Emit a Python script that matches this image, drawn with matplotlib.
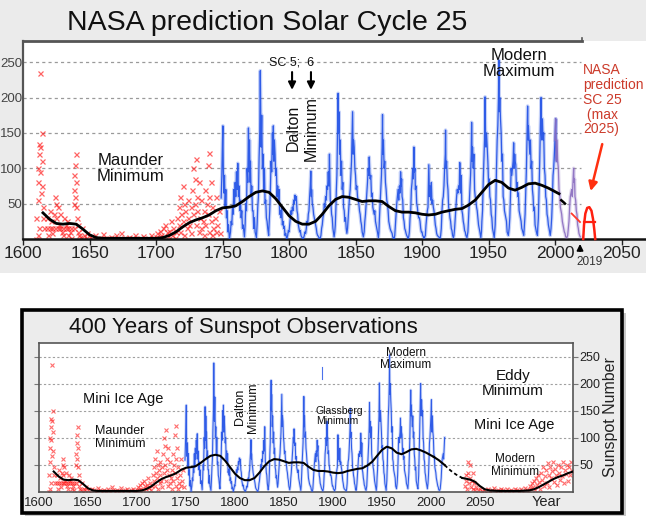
import numpy as np
import matplotlib
matplotlib.use("Agg")
import matplotlib.pyplot as plt
from matplotlib.patches import Rectangle

plt.rcParams['font.family'] = ['Liberation Sans', 'DejaVu Sans']

# ---------------- data ----------------
sn_years = [
 1749.0,1749.5,1750.0,1750.3,1750.6,1751.0,1751.5,1752.0,1752.5,1753.0,1753.5,1754.0,1754.5,1755.2,
 1756.0,1756.5,1757.0,1757.5,1758.0,1758.5,1759.0,1759.5,1760.0,1760.5,1761.0,1761.5,1762.0,1762.5,1763.0,1763.5,1764.0,1764.5,1765.0,1765.5,1766.5,
 1767.0,1767.5,1768.0,1768.5,1769.0,1769.5,1770.0,1770.3,1770.8,1771.0,1771.5,1772.0,1772.5,1773.0,1773.5,1774.0,1774.5,1775.5,
 1776.0,1776.5,1777.0,1777.5,1778.0,1778.4,1778.8,1779.0,1779.5,1780.0,1780.5,1781.0,1781.5,1782.0,1782.5,1783.0,1783.5,1784.0,1784.7,
 1785.0,1785.5,1786.0,1786.5,1787.0,1787.5,1788.0,1788.2,1788.6,1789.0,1789.5,1790.0,1790.5,1791.0,1791.5,1792.0,1792.5,1793.0,1793.5,1794.0,1794.5,1795.0,1795.5,1796.0,1796.5,1797.0,1797.5,1798.3,
 1799.0,1799.5,1800.0,1800.5,1801.0,1801.5,1802.0,1802.5,1803.0,1803.5,1804.0,1804.5,1805.0,1805.5,1806.0,1806.5,1807.0,1807.5,1808.0,1808.5,1809.0,1809.5,1810.6,
 1811.0,1811.5,1812.0,1812.5,1813.0,1813.5,1814.0,1814.5,1815.0,1815.5,1816.0,1816.4,1816.8,1817.0,1817.5,1818.0,1818.5,1819.0,1819.5,1820.0,1820.5,1821.0,1821.5,1822.0,1822.5,1823.3,
 1824.0,1824.5,1825.0,1825.5,1826.0,1826.5,1827.0,1827.5,1828.0,1828.5,1829.0,1829.5,1830.0,1830.4,1830.8,1831.0,1831.5,1832.0,1832.5,1833.0,1833.9,
 1834.4,1834.8,1835.2,1835.6,1836.0,1836.5,1836.9,1837.2,1837.5,1838.0,1838.5,1839.0,1839.5,1840.0,1840.5,1841.0,1841.5,1842.0,1842.5,1843.0,1843.5,
 1844.0,1844.5,1845.0,1845.5,1846.0,1846.5,1847.0,1847.5,1847.8,1848.2,1848.5,1849.0,1849.5,1850.0,1850.5,1851.0,1851.5,1852.0,1852.5,1853.0,1853.5,1854.0,1854.5,1855.0,1855.9,
 1856.5,1857.0,1857.5,1858.0,1858.5,1859.0,1859.5,1860.0,1860.3,1860.7,1861.0,1861.5,1862.0,1862.5,1863.0,1863.5,1864.0,1864.5,1865.0,1865.5,1866.0,1866.5,1867.2,
 1867.6,1868.0,1868.5,1869.0,1869.5,1870.0,1870.3,1870.6,1871.0,1871.5,1872.0,1872.5,1873.0,1873.5,1874.0,1874.5,1875.0,1875.5,1876.0,1876.5,1877.0,1877.5,1878.0,1878.9,
 1879.5,1880.0,1880.5,1881.0,1881.5,1882.0,1882.5,1883.0,1883.5,1883.9,1884.3,1884.7,1885.0,1885.5,1886.0,1886.5,1887.0,1887.5,1888.0,1888.5,1889.6,
 1890.0,1890.5,1891.0,1891.5,1892.0,1892.5,1893.0,1893.5,1893.9,1894.3,1894.7,1895.0,1895.5,1896.0,1896.5,1897.0,1897.5,1898.0,1898.5,1899.0,1899.5,1900.0,1900.5,1901.7,
 1902.0,1902.5,1903.0,1903.5,1904.0,1904.5,1905.1,1905.6,1906.0,1906.5,1907.0,1907.5,1908.0,1908.5,1909.0,1909.5,1910.0,1910.5,1911.0,1911.5,1912.0,1912.5,1913.6,
 1914.0,1914.5,1915.0,1915.5,1916.0,1916.5,1917.0,1917.5,1917.7,1918.0,1918.5,1919.0,1919.5,1920.0,1920.5,1921.0,1921.5,1922.0,1922.5,1923.0,1923.6,
 1924.0,1924.5,1925.0,1925.5,1926.0,1926.5,1927.0,1927.5,1928.0,1928.4,1928.8,1929.0,1929.5,1930.0,1930.5,1931.0,1931.5,1932.0,1932.5,1933.0,1933.8,
 1934.5,1935.0,1935.5,1936.0,1936.5,1937.0,1937.3,1937.7,1938.0,1938.5,1939.0,1939.5,1940.0,1940.5,1941.0,1941.5,1942.0,1942.5,1943.0,1943.5,1944.2,
 1944.7,1945.0,1945.5,1946.0,1946.5,1947.0,1947.4,1947.8,1948.0,1948.5,1949.0,1949.5,1950.0,1950.5,1951.0,1951.5,1952.0,1952.5,1953.0,1953.5,1954.3,
 1955.0,1955.5,1956.0,1956.5,1957.0,1957.5,1957.8,1958.1,1958.5,1959.0,1959.5,1960.0,1960.5,1961.0,1961.5,1962.0,1962.5,1963.0,1963.5,1964.0,1964.9,
 1965.5,1966.0,1966.5,1967.0,1967.5,1968.0,1968.5,1968.9,1969.3,1969.7,1970.0,1970.5,1971.0,1971.5,1972.0,1972.5,1973.0,1973.5,1974.0,1974.5,1975.0,1975.5,1976.5,
 1977.0,1977.5,1978.0,1978.5,1979.0,1979.4,1979.8,1980.0,1980.5,1981.0,1981.5,1982.0,1982.5,1983.0,1983.5,1984.0,1984.5,1985.0,1985.5,1986.0,1986.8,
 1987.0,1987.5,1988.0,1988.5,1989.0,1989.5,1989.8,1990.0,1990.5,1991.0,1991.5,1992.0,1992.5,1993.0,1993.5,1994.0,1994.5,1995.0,1995.5,1996.4,
 1997.0,1997.5,1998.0,1998.5,1999.0,1999.5,2000.0,2000.5,2000.8,2001.0,2001.5,2002.0,2002.5,2003.0,2003.5,2004.0,2004.5,2005.0,2005.5,2006.0,2006.5,2007.0,2007.5,2008.0,2008.9,
 2009.5,2010.0,2010.5,2011.0,2011.5,2012.0,2012.5,2013.0,2013.5,2014.0,2014.3,2014.7,2015.0,2015.5,2016.0,2016.5,2017.0,2017.5,2018.0,2018.5,2019.0]
sn_vals = [
 58,90,140,160,100,65,90,45,70,30,40,10,20,0,
 10,25,20,45,35,70,45,80,60,95,70,107,60,75,40,55,30,40,15,20,3,
 20,50,40,100,80,157,95,140,80,110,60,75,40,40,15,30,10,2,
 20,45,60,115,150,238,170,130,175,100,120,70,100,50,55,30,25,15,5,
 20,40,70,110,95,150,120,160,110,140,120,90,100,60,75,55,70,35,40,30,45,20,25,15,18,5,8,0,
 5,12,10,20,30,40,35,45,40,55,50,62,55,60,40,35,20,15,10,12,5,3,0,
 2,5,10,8,15,25,20,35,40,60,75,96,60,70,50,45,35,30,25,20,15,8,5,4,2,0,
 5,15,20,30,35,50,45,60,55,75,70,95,75,120,70,55,50,35,30,15,3,
 10,20,40,70,90,150,206,150,180,120,140,90,110,70,80,45,40,25,30,15,8,
 15,30,45,60,70,90,110,150,180,120,140,130,100,90,70,75,60,55,50,40,35,25,20,10,3,
 10,25,35,50,65,80,100,90,116,95,85,90,60,65,45,40,35,40,25,20,15,10,2,
 10,30,50,70,90,130,176,120,140,100,110,80,70,55,50,40,25,20,15,12,10,8,3,0,
 5,20,35,50,60,70,55,75,65,95,75,85,60,55,30,25,15,12,8,5,1,
 3,10,30,40,70,80,100,85,130,95,100,70,75,50,45,35,30,30,25,15,10,10,5,1,
 3,5,20,30,40,45,105,60,75,55,80,50,55,45,40,30,20,15,8,5,4,3,1,
 5,15,40,55,60,75,100,120,154,100,110,80,70,45,40,30,25,15,12,5,2,
 5,15,30,45,60,70,65,75,70,108,75,65,90,40,35,25,20,12,10,5,2,
 10,30,50,70,90,120,165,110,130,100,120,70,60,55,45,40,30,20,15,10,2,
 10,25,40,80,110,140,201,140,130,150,130,110,80,85,60,55,35,30,15,10,2,
 20,50,100,140,160,200,253,180,200,170,150,110,120,60,55,40,35,30,25,10,5,
 15,30,60,100,90,100,110,136,100,120,110,105,70,80,60,65,40,35,30,25,15,12,5,
 20,35,70,100,150,188,140,160,140,120,140,100,110,70,60,40,45,20,15,10,5,
 15,30,70,110,160,200,150,140,170,140,150,100,90,60,55,35,30,20,15,5,
 15,30,55,90,100,120,140,170,115,110,140,110,100,70,65,45,40,35,25,20,15,10,8,3,2,
 5,15,25,45,60,65,70,60,80,100,80,85,60,55,40,35,20,15,8,5,3]

# isolated blue mark in the lower chart
glitch_years = [1889.0, 1889.0]
glitch_vals = [209, 231]

# early telescopic observations (red crosses)
red_years = [
 1610,1610,1611,1611,1611.5,1612,1612,1612.5,1613,1613,1613.5,1614,1614,1614.5,1615,1615,1612,1611,
 1616,1618,1620,1622,1624,1626,1628,1630,1632,1634,1636,1638,
 1618,1619,1620,1621,1622,1623,1624,1625,1625,1626,1627,1628,1629,1630,1631,1632,1633,1634,1635,1636,
 1638,1638,1638.5,1639,1639,1639.5,1640,1640,1640.5,1641,1641,1642,1643,1644,1645,
 1646,1647,1648,1650,1652,1654,1656,1658,1660,1662,1664,1666,1668,1670,1672,1674,1676,1678,1680,1682,1684,1686,1688,1690,1692,1694,1696,1698,1700,
 1701,1702,1703,1704,1705,1706,1707,1708,1709,1710,1711,1712,1713,1714,1715,
 1716,1717,1717,1718,1718,1719,1720,1720,1721,1721,1722,1723,1724,1724,1725,1726,1726,1727,1728,1728,1729,1729,1730,1730,1731,1731,1732,1732,
 1733,1734,1734,1735,1736,1736,1737,1737,1738,1739,1739,1740,1740,1740,1741,1741,1742,1742,1743,1744,1745,1745,1746,1747,1748]
red_vals = [
 0,30,55,80,100,120,135,95,235,130,65,110,150,75,45,30,15,5,
 15,15,15,15,15,15,15,15,15,15,15,15,
 30,5,40,25,8,35,60,50,30,45,20,35,10,5,30,20,25,5,10,2,
 50,70,90,105,60,80,120,45,30,20,10,5,3,15,0,
 5,2,8,3,0,5,2,0,7,2,0,3,1,5,0,8,2,0,3,1,6,0,2,4,0,2,5,1,3,
 8,2,12,5,15,3,20,10,4,12,25,6,15,2,10,
 30,20,45,60,10,35,75,25,50,5,40,15,55,30,20,45,8,70,35,100,85,50,113,20,60,40,80,10,
 30,55,15,25,40,5,70,20,50,105,35,121,60,10,80,25,45,5,15,30,60,10,20,40,8]

# projected repeat of a grand minimum (lower chart, red crosses)
future_years = [
 2035,2036,2036,2037,2038,2038,2039,2040,2040,2041,2042,2043,2043,2044,2045,2046,2048,
 2050,2052,2054,2056,2058,2060,2062,2064,2066,2068,2070,2072,2074,2076,2078,2080,2082,2084,2086,2088,2090,2092,2094,2096,2098,2100,
 2101,2102,2103,2104,2105,2106,2107,2108,2109,2110,2111,2112,2113,2114,2115,2116,2117,2118,2119,2120,2121,2122,2123,2124,2125,2126,
 2127,2128,2129,2130,2131,2132,2133,2134,2135,2136,2137,2138,2139,2140,2141,2142,2143,2144]
future_vals = [
 10,30,20,5,35,55,15,25,50,8,20,35,5,15,2,8,3,
 5,1,3,0,4,1,2,6,0,3,1,5,2,0,4,1,3,0,5,2,1,4,0,6,2,3,
 10,5,15,8,20,3,25,12,30,18,5,35,22,45,10,28,40,15,52,30,8,45,25,38,55,18,
 42,30,12,50,35,22,45,28,55,15,40,33,50,20,45,30,55,38]

# smoothed trend (black)
trend_years = [1615,1620,1625,1630,1635,1640,1645,1650,1655,1660,1670,1680,1690,1700,1705,1710,1715,1720,
               1725,1730,1735,1740,1745,1750,1755,1760,1765,1770,1775,1780,1785,1790,1795,1800,1805,1810,
               1815,1820,1825,1830,1835,1840,1845,1850,1855,1860,1865,1870,1875,1880,1885,1890,1895,1900,
               1905,1910,1915,1920,1925,1930,1935,1940,1945,1950,1955,1960,1965,1970,1975,1980,1985,1990,
               1995,2000,2003]
trend_vals = [37,28,22,21,22,21,14,6,2,1,1,1,1,1,2,5,10,17,
              23,27,30,34,40,44,45,47,53,60,66,68,66,57,45,33,25,21,
              21,25,35,47,56,60,59,56,53,54,54,53,46,40,38,38,37,35,
              34,35,38,40,42,43,48,55,66,77,83,80,72,69,73,78,79,76,
              72,67,64]
# upper chart: short dashed continuation
top_dash_years = [2004, 2007, 2010]
top_dash_vals = [56, 51, 45]
# lower chart: continuation, dashed bridge, projected grand minimum
ext_years = [2003, 2008, 2014]
ext_vals = [64, 58, 49]
bridge_years = [2014, 2018, 2022, 2026, 2032]
bridge_vals = [49, 42, 36, 31, 25]
future_trend_years = [2032,2035,2040,2045,2050,2055,2060,2070,2080,2090,2100,2105,2110,2115,2120,2125,2130,2135,2140,2145]
future_trend_vals = [25,24,22,18,10,4,2,1,1,1,2,4,8,13,18,23,27,30,34,37]

# NASA SC25 sketch (red, upper chart)
nasa_line_years = [2012.5, 2018.8]
nasa_line_vals = [36, 24]
nasa_a_years = [2021.2, 2021.8, 2022.8, 2024.2, 2025.8, 2027.4, 2028.6, 2029.6, 2030.2]
nasa_a_vals = [0, 20, 36, 44, 45, 40, 28, 12, 0]
nasa_bar_years = [2021.6, 2029.8]
nasa_bar_vals = [24, 24]

x_ticks = [1600, 1650, 1700, 1750, 1800, 1850, 1900, 1950, 2000, 2050]
y_ticks = [50, 100, 150, 200, 250]

# ---------------- figure ----------------
W, H = 646, 522
fig = plt.figure(figsize=(W / 100, H / 100), dpi=100)
fig.patch.set_facecolor('white')

def fx(px):
    return px / W

def fy(py):
    return 1 - py / H

# upper grey band
fig.patches.append(Rectangle((0, fy(273)), 1, 273 / H, transform=fig.transFigure,
                             facecolor='#ebebeb', edgecolor='none', zorder=-5))
# lower framed panel
fig.patches.append(Rectangle((fx(25), fy(516)), fx(601), 203 / H, transform=fig.transFigure,
                             facecolor='#c8c8c8', edgecolor='none', zorder=-5))
fig.patches.append(Rectangle((fx(22), fy(513)), fx(600), 203 / H, transform=fig.transFigure,
                             facecolor='#ececec', edgecolor='black', linewidth=2.6, zorder=-4))

sn_y = np.array(sn_years)
sn_v = np.array(sn_vals)
BLUE = '#1f4fe6'
PURPLE = '#8a6cc0'
RED = '#ff1f1f'

def draw_blue(ax, mask, color):
    ax.plot(sn_y[mask], sn_v[mask], color=color, lw=2.6, alpha=0.25, zorder=3)
    ax.plot(sn_y[mask], sn_v[mask], color=color, lw=0.9, alpha=0.9, zorder=4)

# ---------- upper chart ----------
ax1 = fig.add_axes([fx(23), fy(239), fx(623), 198 / H])
ax1.set_xlim(1600, 2068.4)
ax1.set_ylim(0, 280)
ax1.set_facecolor('white')
for s in ['right', 'top']:
    ax1.spines[s].set_visible(False)
ax1.spines['left'].set_color('#555555')
ax1.spines['left'].set_linewidth(1.6)
ax1.spines['bottom'].set_color('#111111')
ax1.spines['bottom'].set_linewidth(1.8)
ax1.plot([1600, 2020], [280, 280], color='#555555', lw=2.0, clip_on=False, zorder=5)
ax1.plot([2020, 2020], [280, 284], color='#555555', lw=1.2, clip_on=False, zorder=5)
ax1.hlines(y_ticks, 1600, 2019.5, colors='#9a9a9a', linestyles=(0, (2.5, 2.5)), lw=0.9, zorder=1)

ax1.plot(red_years, red_vals, linestyle='none', marker='x', color=RED, ms=3.6, mew=0.9, alpha=0.7, zorder=2)
draw_blue(ax1, sn_y <= 2001.0, BLUE)
draw_blue(ax1, sn_y >= 2000.0, PURPLE)
ax1.plot(trend_years, trend_vals, color='black', lw=2.0, zorder=6)
ax1.plot(top_dash_years, top_dash_vals, color='black', lw=1.8, ls=(0, (3, 2)), zorder=6)
ax1.plot(nasa_line_years, nasa_line_vals, color='#ff3a2a', lw=1.3, zorder=6)
ax1.plot(nasa_a_years, nasa_a_vals, color='#ff2010', lw=1.8, zorder=6, clip_on=False)
ax1.plot(nasa_bar_years, nasa_bar_vals, color='#ff2010', lw=1.6, zorder=6)

ax1.set_xticks(x_ticks)
ax1.set_xticklabels([str(t) for t in x_ticks], fontsize=12.5, color='#222222')
ax1.set_yticks(y_ticks)
ax1.set_yticklabels([str(t) for t in y_ticks], fontsize=9.5, color='#444444')
ax1.tick_params(axis='x', direction='out', length=4, width=1, pad=1.0, color='#222222')
ax1.tick_params(axis='y', length=0, pad=0.5)

ax1.text(1681, 100, 'Maunder\nMinimum', fontsize=12, ha='center', va='center', linespacing=1.1, color='#111111', zorder=7)
ax1.text(1802, 250, 'SC 5;  6', fontsize=9, ha='center', va='center', color='#111111', zorder=7)
for xa in [1802.3, 1816.5]:
    ax1.annotate('', xy=(xa, 207), xytext=(xa, 240),
                 arrowprops=dict(arrowstyle='-|>', color='black', lw=1.5, mutation_scale=11), zorder=7)
ax1.text(1803, 157, 'Dalton', fontsize=11.5, rotation=90, ha='center', va='center', color='#111111', zorder=7)
ax1.text(1816.5, 156, 'Minimum', fontsize=11.5, rotation=90, ha='center', va='center', color='#111111', zorder=7)
ax1.text(1973, 248, 'Modern\nMaximum', fontsize=12, ha='center', va='center', linespacing=1.05, color='#111111', zorder=7)
ax1.text(2021, 249, 'NASA\nprediction\nSC 25\n (max\n2025)', fontsize=10, ha='left', va='top',
         linespacing=1.08, color='#cc3b2b', zorder=7)
ax1.annotate('', xy=(2026.3, 64), xytext=(2036, 138),
             arrowprops=dict(arrowstyle='-|>', color='#ff3010', lw=1.8, mutation_scale=13), zorder=7)
ax1.annotate('', xy=(2018.8, -3), xytext=(2018.8, -21), annotation_clip=False,
             arrowprops=dict(arrowstyle='-|>', color='black', lw=1.3, mutation_scale=9), zorder=7)
ax1.text(2026.3, -33, '2019', fontsize=8.5, ha='center', va='center', color='#333333', clip_on=False)

fig.text(fx(267), fy(23), 'NASA prediction Solar Cycle 25', fontsize=20.5, ha='center', va='center', color='#111111')

# ---------- lower chart ----------
ax2 = fig.add_axes([fx(39), fy(491.5), fx(534), 148.5 / H])
ax2.set_xlim(1600, 2145)
ax2.set_ylim(0, 275)
ax2.set_facecolor('white')
for s in ax2.spines.values():
    s.set_color('#555555')
    s.set_linewidth(1.2)
ax2.hlines(y_ticks, 1600, 2145, colors='#a0a0a0', linestyles=(0, (2, 2)), lw=0.8, zorder=1)

ax2.plot(red_years, red_vals, linestyle='none', marker='x', color=RED, ms=3.0, mew=0.8, alpha=0.65, zorder=2)
ax2.plot(future_years, future_vals, linestyle='none', marker='x', color=RED, ms=3.0, mew=0.8, alpha=0.65, zorder=2)
mask2 = sn_y <= 2014.0
ax2.plot(sn_y[mask2], sn_v[mask2], color=BLUE, lw=2.0, alpha=0.22, zorder=3)
ax2.plot(sn_y[mask2], sn_v[mask2], color=BLUE, lw=0.75, alpha=0.9, zorder=4)
ax2.plot(glitch_years, glitch_vals, color=BLUE, lw=0.8, alpha=0.8, zorder=4)
ax2.plot(trend_years, trend_vals, color='black', lw=1.5, zorder=6)
ax2.plot(ext_years, ext_vals, color='black', lw=1.5, zorder=6)
ax2.plot(bridge_years, bridge_vals, color='black', lw=1.3, ls=(0, (2, 1.5)), zorder=6)
ax2.plot(future_trend_years, future_trend_vals, color='black', lw=1.5, zorder=6)

ax2.set_xticks(x_ticks)
ax2.set_xticklabels([str(t) for t in x_ticks], fontsize=9.5, color='#222222')
ax2.tick_params(axis='x', length=0, pad=4)
ax2.set_yticks(y_ticks)
ax2.tick_params(axis='y', which='both', left=True, right=True, labelleft=False, labelright=True,
                direction='out', length=3.5, width=0.8, color='#777777', labelsize=9, pad=1.2, labelcolor='#222222')
ax2.text(2118, -19, 'Year', fontsize=10.5, ha='center', va='center', color='#222222', clip_on=False)
fig.text(fx(611), fy(417), 'Sunspot Number', fontsize=11.5, rotation=90, ha='center', va='center', color='#222222')

ax2.text(1685.7, 171, 'Mini Ice Age', fontsize=10.5, ha='center', va='center', color='#111111', zorder=7)
ax2.text(1682.6, 100, 'Maunder\nMinimum', fontsize=9, ha='center', va='center', linespacing=1.1, color='#111111', zorder=7)
ax2.text(1805, 156, 'Dalton', fontsize=9, rotation=90, ha='center', va='center', color='#111111', zorder=7)
ax2.text(1818.4, 155, 'Minimum', fontsize=9, rotation=90, ha='center', va='center', color='#111111', zorder=7)
ax2.text(1882.7, 140, 'Glassberg\nMinimum', fontsize=7.5, ha='left', va='center', linespacing=1.0, color='#111111', zorder=7)
ax2.text(1974.5, 245, 'Modern\nMaximum', fontsize=8.5, ha='center', va='center', linespacing=1.0, color='#111111', zorder=7)
ax2.text(2083.7, 200, 'Eddy\nMinimum', fontsize=11, ha='center', va='center', linespacing=1.1, color='#111111', zorder=7)
ax2.text(2084.7, 123, 'Mini Ice Age', fontsize=10.5, ha='center', va='center', color='#111111', zorder=7)
ax2.text(2085.7, 48, 'Modern\nMinimum', fontsize=8.5, ha='center', va='center', linespacing=1.05, color='#111111', zorder=7)

fig.text(fx(243), fy(327), '400 Years of Sunspot Observations', fontsize=16, ha='center', va='center', color='#111111')

fig.savefig('out.png', dpi=100)
